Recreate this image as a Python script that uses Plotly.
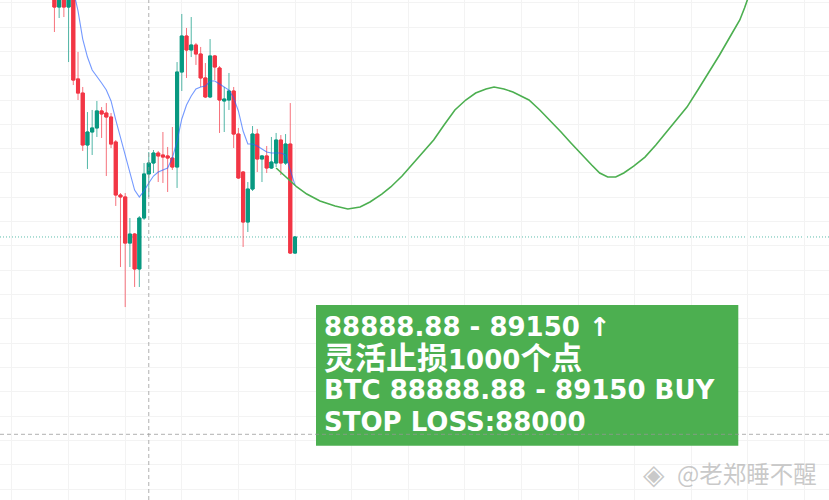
import plotly.graph_objects as go

# Bar index (0 = last bar); the vertical grid falls every 12 bars
bars = list(range(-51, 1))
opens = [91288, 91164, 91263, 91164, 91288, 90573, 90457, 90030, 90137, 90170,
         90310, 90293, 90260, 90055, 89619, 89603, 89224, 89298, 89011, 89430,
         89792, 89882, 89964, 89948, 89940, 89923, 89849, 90630, 90926, 90811,
         90852, 90778, 90581, 90425, 90762, 90663, 90392, 90400, 90474, 90120,
         89808, 89397, 89668, 90120, 89915, 89940, 89841, 89882, 90071, 89882,
         90038, 89142]
highs = [91345, 91304, 91288, 91321, 91304, 90795, 90507, 90301, 90318, 90392,
         90342, 90375, 90293, 90071, 89635, 89635, 89430, 89307, 89446, 89882,
         89972, 89989, 89981, 90137, 90014, 90178, 90712, 91107, 90992, 91082,
         90869, 90836, 90704, 90901, 90770, 90679, 90507, 90622, 90507, 90170,
         89816, 89726, 90186, 90162, 89948, 90022, 90096, 90129, 90112, 90120,
         90375, 89282]
lows = [90959, 91074, 91082, 90712, 90523, 90400, 89981, 89833, 89948, 90096,
        90088, 89775, 90005, 89529, 89027, 88698, 89027, 88863, 88863, 89414,
        89603, 89800, 89726, 89718, 89644, 89825, 89677, 90474, 90581, 90753,
        90688, 90507, 90416, 90416, 90564, 90129, 90137, 90318, 90005, 89751,
        89192, 89315, 89652, 89808, 89726, 89800, 89833, 89849, 89783, 89866,
        89134, 89134]
closes = [91164, 91263, 91164, 91288, 90564, 90457, 90030, 90137, 90170, 90310,
          90285, 90260, 90038, 89619, 89603, 89224, 89298, 89011, 89430, 89792,
          89882, 89964, 89940, 89931, 89923, 89849, 90630, 90926, 90811, 90852,
          90778, 90581, 90425, 90762, 90671, 90400, 90408, 90474, 90120, 89759,
          89397, 89668, 90120, 89915, 89940, 89841, 89890, 90071, 89882, 90038,
          89142, 89274]

# moving average (blue line)
ma_bars = list(range(-47, 1))
ma_values = [91304, 91132, 90901, 90753, 90647, 90597, 90540, 90482, 90392, 90236,
             90088, 89956, 89792, 89660, 89603, 89652, 89718, 89775, 89808, 89825,
             89841, 89923, 90063, 90244, 90359, 90433, 90490, 90507, 90515, 90556,
             90556, 90531, 90507, 90482, 90416, 90310, 90145, 90038, 90038, 90022,
             89997, 89972, 89964, 89964, 89964, 89948, 89825, 89701]

# hand drawn projection path (green)
path_x = [-4.0, -1.7, 0.4, 2.5, 5.3, 8.5, 11.2, 13.8, 15.9, 18.4, 20.3, 22.7,
          24.8, 27.1, 29.4, 31.6, 33.9, 36.2, 38.3, 40.5, 42.2, 44.3, 46.2, 47.9,
          49.6, 51.9, 54.0, 56.4, 58.5, 60.8, 62.9, 64.6, 66.3, 68.0, 69.7, 71.8,
          74.2, 76.5, 78.6, 80.9, 83.1, 85.4, 87.7, 90.0, 92.2, 94.3, 95.3, 96.0,
          96.5]
path_y = [89841, 89759, 89685, 89627, 89570, 89529, 89504, 89520, 89562, 89627,
          89685, 89775, 89866, 89964, 90071, 90194, 90318, 90400, 90457, 90490,
          90507, 90490, 90466, 90433, 90400, 90318, 90236, 90137, 90047, 89948,
          89866, 89800, 89767, 89767, 89800, 89857, 89931, 90030, 90129, 90236,
          90342, 90482, 90622, 90770, 90918, 91058, 91156, 91222, 91288]

last_price = 89274
cross_bar = -31
cross_price = 87652

text_lines = ["88888.88 - 89150 ↑",
              "<span style='font-size:31px'>灵活止损</span>1000<span style='font-size:31px'>个点</span>",
              "BTC 88888.88 - 89150 BUY",
              "STOP LOSS:88000"]
watermark = "@老郑睡不醒"

UP = '#089981'
DOWN = '#f23645'
GRID = '#f3f3f3'
CROSS = 'rgba(150,150,150,0.75)'

fig = go.Figure()
# wicks
fig.add_trace(go.Candlestick(
    x=bars, open=opens, high=highs, low=lows, close=closes,
    increasing=dict(line=dict(color='rgba(8,153,129,0.7)', width=1), fillcolor=UP),
    decreasing=dict(line=dict(color='rgba(242,54,69,0.7)', width=1), fillcolor=DOWN),
    hoverinfo='skip'))
# solid bodies on top
fig.add_trace(go.Candlestick(
    x=bars, open=opens, close=closes,
    high=[max(o, c) for o, c in zip(opens, closes)],
    low=[min(o, c) for o, c in zip(opens, closes)],
    increasing=dict(line=dict(color=UP, width=1), fillcolor=UP),
    decreasing=dict(line=dict(color=DOWN, width=1), fillcolor=DOWN),
    hoverinfo='skip'))
fig.add_trace(go.Scatter(
    x=ma_bars, y=ma_values, mode='lines',
    line=dict(color='rgba(41,98,255,0.65)', width=1.1), hoverinfo='skip'))
fig.add_trace(go.Scatter(
    x=path_x, y=path_y, mode='lines',
    line=dict(color='#4caf50', width=1.6), hoverinfo='skip'))

# last price line
fig.add_shape(type='line', xref='paper', x0=0, x1=1, yref='y', y0=last_price, y1=last_price,
              line=dict(color='rgba(8,153,129,0.65)', width=1, dash='1px,2px'), layer='below')
# text box
fig.add_shape(type='rect', xref='paper', yref='paper',
              x0=316 / 829, x1=738.3 / 829, y0=1 - 445.7 / 500, y1=1 - 305 / 500,
              fillcolor='#4caf50', line=dict(width=0), layer='above')
# crosshair
fig.add_shape(type='line', xref='paper', x0=0, x1=1, yref='y', y0=cross_price, y1=cross_price,
              line=dict(color=CROSS, width=1, dash='4px,3px'), layer='above')
fig.add_shape(type='line', xref='x', x0=cross_bar, x1=cross_bar, yref='paper', y0=0, y1=1,
              line=dict(color=CROSS, width=1, dash='4px,3px'), layer='above')

line_centers = [326.7, 358.4, 390.0, 421.7]
for txt, yc in zip(text_lines, line_centers):
    fig.add_annotation(
        text=txt, xref='paper', yref='paper', x=322 / 829, y=1 - yc / 500,
        xanchor='left', yanchor='middle', showarrow=False,
        font=dict(family='DejaVu Sans, Noto Sans CJK SC', size=26, color='white', weight='bold'))

fig.add_annotation(
    text='◈', xref='paper', yref='paper', x=654 / 829, y=1 - 474 / 500,
    xanchor='center', yanchor='middle', showarrow=False,
    font=dict(family='DejaVu Sans', size=28, color='rgba(165,165,165,0.6)'))
fig.add_annotation(
    text=watermark, xref='paper', yref='paper', x=675 / 829, y=1 - 473 / 500,
    xanchor='left', yanchor='middle', showarrow=False,
    font=dict(family='Noto Sans CJK SC', size=23.5, color='rgba(165,165,165,0.6)'))

fig.update_layout(
    width=829, height=500,
    margin=dict(l=0, r=0, t=0, b=0),
    paper_bgcolor='white', plot_bgcolor='white',
    showlegend=False,
    boxgap=0.35, boxgroupgap=0,
    xaxis=dict(range=[-62.54, 113.21], tick0=0, dtick=12, showgrid=True,
               gridcolor=GRID, gridwidth=1, zeroline=False,
               showticklabels=False, ticks='', showline=False,
               rangeslider=dict(visible=False)),
    yaxis=dict(range=[87112, 91222], tick0=91000, dtick=200, showgrid=True,
               gridcolor=GRID, gridwidth=1, zeroline=False,
               showticklabels=False, ticks='', showline=False),
)

fig.write_html("out.html", config={'displayModeBar': False},
               post_script="document.body.style.margin='0';")
